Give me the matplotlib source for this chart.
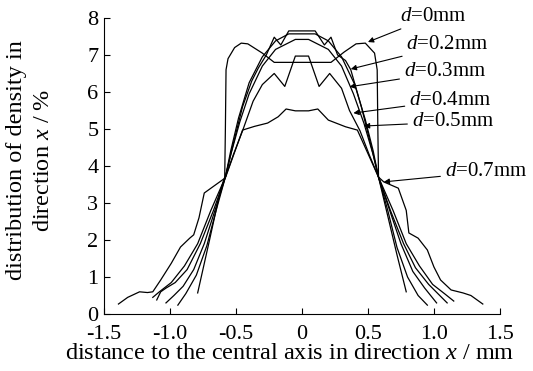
import numpy as np
import matplotlib
matplotlib.use("Agg")
import matplotlib.pyplot as plt

plt.rcParams['font.family'] = ['Liberation Serif', 'DejaVu Serif']
plt.rcParams['mathtext.fontset'] = 'custom'
plt.rcParams['mathtext.it'] = 'Liberation Serif:italic'
plt.rcParams['mathtext.rm'] = 'Liberation Serif'

# curves (x in mm, density in %)
x_d0 = [-0.79, -0.70, -0.62, -0.585, -0.58, -0.575, -0.56, -0.51, -0.46, -0.41, -0.30, -0.21,
        0.22, 0.32, 0.41, 0.48, 0.55, 0.57, 0.575, 0.58, 0.64, 0.72, 0.79]
y_d0 = [0.57, 2.0, 3.3, 3.7, 5.0, 6.6, 6.9, 7.2, 7.32, 7.3, 7.05, 6.8,
        6.8, 7.08, 7.3, 7.32, 7.05, 6.6, 5.0, 3.7, 2.8, 1.6, 0.6]

x_d02 = [-0.94, -0.88, -0.80, -0.72, -0.65, -0.58, -0.52, -0.45, -0.38, -0.33, -0.27, -0.21, -0.16,
         -0.10, 0.10, 0.17, 0.22, 0.27, 0.33, 0.37, 0.45, 0.52, 0.58, 0.65, 0.72, 0.80, 0.88, 0.95]
y_d02 = [0.24, 0.55, 1.05, 1.85, 2.8, 3.7, 4.6, 5.6, 6.3, 6.65, 7.0, 7.48, 7.27,
         7.65, 7.65, 7.27, 7.48, 7.0, 6.85, 6.6, 5.6, 4.6, 3.7, 2.8, 1.8, 1.0, 0.5, 0.24]

x_d03 = [-1.03, -0.97, -0.90, -0.82, -0.74, -0.65, -0.58, -0.54, -0.48, -0.40, -0.30, -0.20, -0.10,
         0.10, 0.20, 0.30, 0.40, 0.48, 0.54, 0.58, 0.66, 0.75, 0.84, 0.93, 1.02]
y_d03 = [0.3, 0.5, 0.75, 1.2, 1.9, 2.9, 3.7, 4.4, 5.3, 6.25, 6.95, 7.38, 7.57,
         7.57, 7.38, 6.95, 6.2, 5.25, 4.4, 3.7, 2.85, 1.9, 1.15, 0.7, 0.3]

x_d04 = [-1.10, -1.07, -1.03, -0.96, -0.87, -0.77, -0.67, -0.58, -0.54, -0.47, -0.40, -0.30, -0.20, -0.05,
         0.05, 0.20, 0.30, 0.39, 0.47, 0.54, 0.58, 0.67, 0.77, 0.86, 0.96, 1.03, 1.10]
y_d04 = [0.38, 0.6, 0.7, 0.85, 1.2, 1.9, 2.8, 3.7, 4.3, 5.2, 5.95, 6.7, 7.15, 7.42,
         7.42, 7.15, 6.7, 5.95, 5.15, 4.3, 3.7, 2.8, 1.9, 1.25, 0.8, 0.55, 0.3]

x_d05 = [-1.13, -1.08, -0.99, -0.89, -0.79, -0.69, -0.58, -0.52, -0.45, -0.37, -0.30, -0.21, -0.13, -0.05,
         0.05, 0.13, 0.21, 0.30, 0.36, 0.44, 0.51, 0.58, 0.69, 0.79, 0.89, 0.99, 1.08, 1.15]
y_d05 = [0.45, 0.6, 0.85, 1.3, 1.9, 2.8, 3.7, 4.3, 4.95, 5.75, 6.2, 6.5, 6.15, 6.97,
         6.97, 6.15, 6.5, 6.1, 5.5, 4.95, 4.3, 3.7, 2.8, 1.9, 1.3, 0.8, 0.55, 0.35]

x_d07 = [-1.39, -1.32, -1.23, -1.17, -1.13, -1.07, -0.99, -0.92, -0.85, -0.82, -0.78, -0.74, -0.67, -0.58,
         -0.45, -0.36, -0.26, -0.18, -0.12, -0.05, 0.05, 0.12, 0.20, 0.33, 0.42, 0.58,
         0.62, 0.73, 0.79, 0.81, 0.88, 0.95, 1.00, 1.05, 1.13, 1.22, 1.28, 1.37]
y_d07 = [0.27, 0.45, 0.6, 0.58, 0.6, 0.92, 1.37, 1.81, 2.05, 2.14, 2.6, 3.27, 3.45, 3.68,
         4.97, 5.07, 5.16, 5.33, 5.54, 5.49, 5.49, 5.54, 5.24, 5.06, 4.97, 3.7,
         3.57, 3.4, 2.8, 2.19, 2.05, 1.73, 1.27, 0.92, 0.65, 0.57, 0.5, 0.27]

labels = ['0', '0.2', '0.3', '0.4', '0.5', '0.7']
# label position and arrow tip
label_xy = [(0.74, 8.05), (0.79, 7.27), (0.77, 6.54), (0.81, 5.78), (0.83, 5.19), (1.08, 3.84)]
tip_xy = [(0.50, 7.35), (0.37, 6.62), (0.36, 6.14), (0.39, 5.43), (0.47, 5.08), (0.62, 3.57)]

fig = plt.figure(figsize=(5.33, 3.71), dpi=100)
ax = fig.add_axes([0.195, 0.1536, 0.743, 0.798])

for xs, ys in [(x_d0, y_d0), (x_d02, y_d02), (x_d03, y_d03),
               (x_d04, y_d04), (x_d05, y_d05), (x_d07, y_d07)]:
    ax.plot(xs, ys, color='black', lw=0.9)

for lab, (tx, ty), (px, py) in zip(labels, label_xy, tip_xy):
    ax.annotate(r'$\mathit{d}$=' + lab + 'mm', xy=(px, py), xytext=(tx, ty),
                fontsize=15, va='center', ha='left', annotation_clip=False,
                arrowprops=dict(arrowstyle='-|>', color='black', lw=0.8,
                                mutation_scale=8, shrinkA=1, shrinkB=0))

ax.set_xlim(-1.5, 1.5)
ax.set_ylim(0, 8)
ax.set_xticks([-1.5, -1.0, -0.5, 0, 0.5, 1.0, 1.5])
ax.set_xticklabels(['-1.5', '-1.0', '-0.5', '0', '0.5', '1.0', '1.5'])
ax.set_yticks(range(9))
ax.tick_params(direction='in', length=4, width=0.8, labelsize=16)
ax.tick_params(axis='x', pad=8)
ax.tick_params(axis='y', pad=4)
ax.spines['top'].set_visible(False)
ax.spines['right'].set_visible(False)
ax.set_xlabel(r'distance to the central axis in direction $\mathit{x}$ / mm', fontsize=17.5)
ax.set_ylabel('distribution of density in\n' + r'direction $\mathit{x}$ / %', fontsize=17.5,
              linespacing=1.4)
ax.xaxis.set_label_coords(0.47, -0.135, transform=ax.transAxes)
ax.xaxis.label.set_va('center')
ax.yaxis.set_label_coords(-0.187, 0.52, transform=ax.transAxes)
ax.yaxis.label.set_va('center')

fig.savefig('out.png', dpi=100)
